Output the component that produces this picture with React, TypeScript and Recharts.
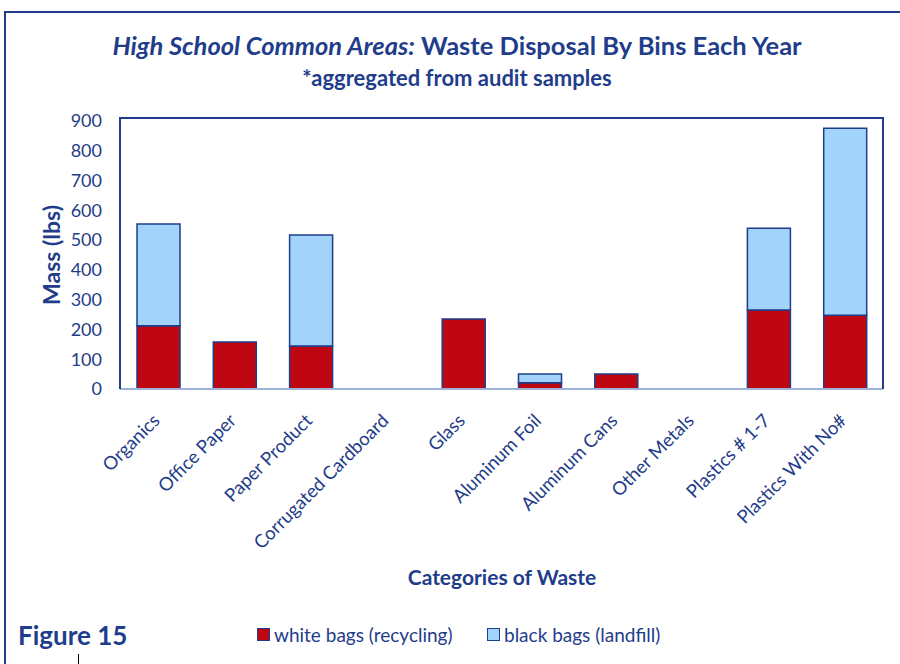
import React from 'react';
import { BarChart, Bar, XAxis, YAxis } from 'recharts';

const categories = [
  'Organics',
  'Office Paper',
  'Paper Product',
  'Corrugated Cardboard',
  'Glass',
  'Aluminum Foil',
  'Aluminum Cans',
  'Other Metals',
  'Plastics # 1-7',
  'Plastics With No#',
];
const recycling = [212, 158, 144, 0, 235, 21, 50, 0, 265, 248];
const landfill = [342, 0, 373, 0, 0, 29, 0, 0, 275, 628];
const yTicks = [0, 100, 200, 300, 400, 500, 600, 700, 800, 900];
const seriesNames = ['white bags (recycling)', 'black bags (landfill)'];

const data = categories.map((name, i) => ({
  name,
  recycling: recycling[i],
  landfill: landfill[i],
}));

const NAVY = '#1F3D8A';
const RED = '#BF0714';
const LIGHT = '#A1D3FB';
const FONT = 'Lato, "Open Sans", sans-serif';

// plot area in page pixels
const PLOT = { left: 120, top: 118, right: 883, bottom: 389 };

const XTick = (props: any) => {
  const { x, y, payload } = props;
  return (
    <g transform={`translate(${x - 7},${y + 15})`}>
      <text
        transform="rotate(-45)"
        textAnchor="end"
        dy="0.75em"
        fill={NAVY}
        fontSize={18.5}
        fontFamily={FONT}
      >
        {payload.value}
      </text>
    </g>
  );
};

const YTick = (props: any) => {
  const { x, y, payload } = props;
  return (
    <text x={x - 10} y={y} dy="0.35em" textAnchor="end" fill={NAVY} fontSize={18} fontFamily={FONT}>
      {payload.value}
    </text>
  );
};

const abs = (style: React.CSSProperties): React.CSSProperties => ({
  position: 'absolute',
  color: NAVY,
  whiteSpace: 'nowrap',
  ...style,
});

export default function App() {
  const swatches = [RED, LIGHT];
  const legendX = [257, 487];
  return (
    <div
      style={{
        position: 'absolute',
        left: 0,
        top: 0,
        width: 900,
        height: 664,
        background: '#fff',
        overflow: 'hidden',
        fontFamily: FONT,
      }}
    >
      {/* outer frame */}
      <div
        style={{
          position: 'absolute',
          left: 4,
          top: 11,
          width: 920,
          height: 700,
          border: `2.5px solid ${NAVY}`,
          boxSizing: 'border-box',
        }}
      />
      <div style={abs({ left: 0, width: 900, top: 30, textAlign: 'center', fontWeight: 700, fontSize: 25.5, paddingLeft: 14, boxSizing: 'border-box' })}>
        <i>High School Common Areas:</i> Waste Disposal By Bins Each Year
      </div>
      <div style={abs({ left: 0, width: 900, top: 64, textAlign: 'center', fontWeight: 700, fontSize: 22, paddingLeft: 14, boxSizing: 'border-box' })}>
        *aggregated from audit samples
      </div>

      <BarChart
        width={900}
        height={664}
        data={data}
        margin={{ top: PLOT.top, right: 900 - PLOT.right, bottom: 664 - PLOT.bottom - 1, left: 0 }}
        barSize={43}
      >
        <XAxis
          dataKey="name"
          interval={0}
          tick={<XTick />}
          tickLine={false}
          axisLine={{ stroke: '#9FB2D8', strokeWidth: 2 }}
          height={1}
        />
        <YAxis
          width={PLOT.left}
          domain={[0, 910]}
          ticks={yTicks}
          tick={<YTick />}
          tickLine={false}
          axisLine={false}
          interval={0}
        />
        <Bar
          dataKey="recycling"
          name={seriesNames[0]}
          stackId="a"
          fill={RED}
          stroke={NAVY}
          strokeWidth={1.5}
          isAnimationActive={false}
        />
        <Bar
          dataKey="landfill"
          name={seriesNames[1]}
          stackId="a"
          fill={LIGHT}
          stroke={NAVY}
          strokeWidth={1.5}
          isAnimationActive={false}
        />
      </BarChart>

      {/* plot frame (top, left, right) */}
      <div
        style={{
          position: 'absolute',
          left: PLOT.left - 1,
          top: PLOT.top - 1,
          width: PLOT.right - PLOT.left + 2,
          height: PLOT.bottom - PLOT.top + 1,
          borderTop: `2.5px solid ${NAVY}`,
          borderLeft: `2.5px solid ${NAVY}`,
          borderRight: `2.5px solid ${NAVY}`,
          boxSizing: 'border-box',
          pointerEvents: 'none',
        }}
      />

      <div style={abs({ left: 51, top: 255, transform: 'translate(-50%, -50%) rotate(-90deg)', fontWeight: 700, fontSize: 23 })}>
        Mass (lbs)
      </div>
      <div style={abs({ left: 502, top: 576, transform: 'translate(-50%, -50%)', fontWeight: 700, fontSize: 21 })}>
        Categories of Waste
      </div>
      <div style={abs({ left: 18, top: 619, fontWeight: 700, fontSize: 26 })}>Figure 15</div>

      {/* legend */}
      {seriesNames.map((n, i) => (
        <div key={n} style={abs({ left: legendX[i], top: 623, display: 'flex', alignItems: 'center', fontSize: 19 })}>
          <span
            style={{
              display: 'inline-block',
              width: 13,
              height: 13,
              background: swatches[i],
              border: `1.5px solid ${NAVY}`,
              boxSizing: 'border-box',
              marginRight: 4,
            }}
          />
          {n}
        </div>
      ))}

      <div style={{ position: 'absolute', left: 78, top: 654, width: 1, height: 12, background: '#000' }} />
    </div>
  );
}
